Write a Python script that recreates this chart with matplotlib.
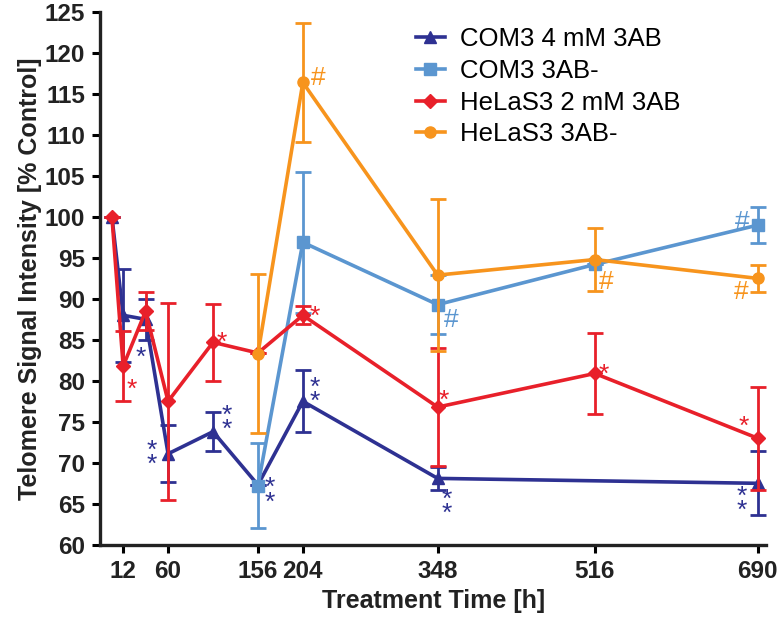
import numpy as np
import matplotlib.pyplot as plt
from matplotlib.lines import Line2D

plt.rcParams['font.family'] = ['Liberation Sans', 'DejaVu Sans']

# -------------------- data --------------------
t_com3_3ab = [0, 12, 36, 60, 108, 156, 204, 348, 690]
v_com3_3ab = [100, 88.0, 87.5, 71.1, 73.8, 67.3, 77.5, 68.1, 67.5]
e_com3_3ab = [0, 5.7, 2.5, 3.5, 2.4, 0, 3.8, 1.4, 3.9]

t_com3_ctl = [156, 204, 348, 516, 690]
v_com3_ctl = [67.2, 96.9, 89.3, 94.2, 99.0]
e_com3_ctl = [5.2, 8.6, 3.6, 0, 2.2]

t_hela_3ab = [0, 12, 36, 60, 108, 156, 204, 348, 516, 690]
v_hela_3ab = [100, 81.8, 88.5, 77.5, 84.7, 83.4, 88.0, 76.8, 80.9, 73.0]
e_hela_3ab = [0, 4.3, 2.3, 12.0, 4.7, 0, 1.1, 7.2, 4.9, 6.3]

t_hela_ctl = [156, 204, 348, 516, 690]
v_hela_ctl = [83.3, 116.4, 92.9, 94.8, 92.5]
e_hela_ctl = [9.7, 7.3, 9.3, 3.8, 1.6]

labels = ["COM3 4 mM 3AB", "COM3 3AB-", "HeLaS3 2 mM 3AB", "HeLaS3 3AB-"]
colors = ["#2e3192", "#5b96d0", "#e8202a", "#f7941d"]
markers = ["^", "s", "D", "o"]

xticks = [12, 60, 156, 204, 348, 516, 690]
yticks = list(range(60, 126, 5))

# significance marks: (time, value, text, series index)
marks = [
    (31, 82.8, "*", 0), (43, 70.6, "*\n*", 0), (123, 74.9, "*\n*", 0),
    (169, 66.0, "*\n*", 0), (217, 78.3, "*\n*", 0), (358, 64.6, "*\n*", 0),
    (673, 65.0, "*\n*", 0),
    (21, 78.9, "*", 2), (117, 84.6, "*", 2), (217, 87.8, "*", 2),
    (355, 77.5, "*", 2), (526, 80.7, "*", 2), (675, 74.4, "*", 2),
    (363, 87.4, "#", 1), (673, 99.4, "#", 1),
    (220, 116.9, "#", 3), (528, 92.1, "#", 3), (672, 90.9, "#", 3),
]

# -------------------- plot --------------------
fig = plt.figure(figsize=(7.77, 6.32), dpi=100)
ax = fig.add_axes([0.129, 0.138, 0.857, 0.843])

series = [
    (t_com3_3ab, v_com3_3ab, e_com3_3ab),
    (t_com3_ctl, v_com3_ctl, e_com3_ctl),
    (t_hela_3ab, v_hela_3ab, e_hela_3ab),
    (t_hela_ctl, v_hela_ctl, e_hela_ctl),
]
for i, (t, v, e) in enumerate(series):
    ax.errorbar(t, v, yerr=e, color=colors[i], marker=markers[i],
                markersize=8 if markers[i] != "D" else 7, lw=2.6,
                elinewidth=2.0, capsize=6, capthick=2.0, zorder=2 + i)

for t, v, txt, i in marks:
    ax.text(t, v, txt, color=colors[i], fontsize=19, ha="center", va="center",
            linespacing=0.5, zorder=10)

ax.set_xlim(-12.5, 699)
ax.set_ylim(60, 125)
ax.set_xticks(xticks)
ax.set_yticks(yticks)
ax.tick_params(labelsize=17.5, width=2.2, length=6, direction="out", pad=5)
for lab in ax.get_xticklabels() + ax.get_yticklabels():
    lab.set_fontweight("bold")
    lab.set_color("#222222")

for s in ["top", "right"]:
    ax.spines[s].set_visible(False)
for s in ["left", "bottom"]:
    ax.spines[s].set_linewidth(2.4)
    ax.spines[s].set_color("#222222")

ax.set_xlabel("Treatment Time [h]", fontsize=18, fontweight="bold", color="#222222", labelpad=4)
ax.set_ylabel("Telomere Signal Intensity [% Control]", fontsize=18, fontweight="bold",
              color="#222222", labelpad=2)

handles = [Line2D([], [], color=colors[i], marker=markers[i], lw=2.6,
                  markersize=8 if markers[i] != "D" else 7) for i in range(4)]
ax.legend(handles, labels, loc="upper left", bbox_to_anchor=(0.44, 1.015), frameon=False,
          fontsize=18.5, handlelength=1.1, handletextpad=0.6, labelspacing=0.3)

fig.savefig("out.png", dpi=100)
